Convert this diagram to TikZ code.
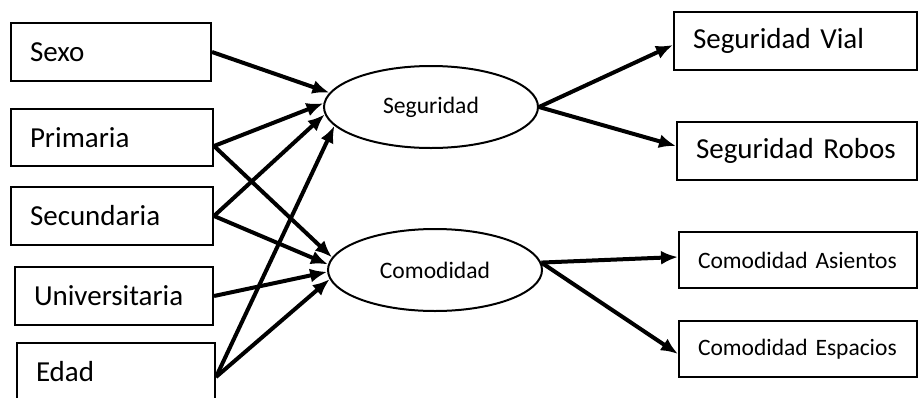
\documentclass[tikz,border=0pt]{standalone}
\usepackage{fontspec}
\setmainfont{Carlito}
\usepackage{tikz}
\usetikzlibrary{shapes, arrows.meta}

\begin{document}
\begin{tikzpicture}[x=1pt,y=-1pt,
    caja/.style={draw,line width=2pt,anchor=north west,align=left,
        inner xsep=19pt,inner ysep=0pt,minimum height=58pt,
        font=\fontsize{29}{32}\selectfont},
    chica/.style={font=\fontsize{23.5}{28}\selectfont},
    latente/.style={draw,ellipse,line width=2pt,minimum width=214pt,
        minimum height=82pt,font=\fontsize{23.6}{28}\selectfont},
    flecha/.style={-{Latex[length=17pt,width=14pt]},line width=4pt}]
        \clip (0,0) rectangle (918,397);
        \node[caja,text width=162pt] (sexo) at (10,22) {Sexo};
        \node[caja,text width=164pt,minimum height=57pt] (prim) at (10,108) {Primaria};
        \node[caja,text width=164pt] (secu) at (10,186) {Secundaria};
        \node[caja,text width=160pt] (univ) at (14,266) {Universitaria};
        \node[caja,text width=160pt] (edad) at (16,342) {Edad};
        \node[latente] (seg) at (431,107) {Seguridad};
        \node[latente] (com) at (435,270) {Comodidad};
        \node[caja,text width=205pt] (vial) at (673,11) {Seguridad Vial};
        \node[caja,text width=202pt] (robos) at (676,121) {Seguridad Robos};
        \node[caja,chica,text width=200pt,minimum height=56pt] (asie) at (678,231) {Comodidad Asientos};
        \node[caja,chica,text width=200pt,minimum height=56pt] (espa) at (678,320) {Comodidad Espacios};
        \draw[flecha] (sexo.east) -- (seg.172);
        \draw[flecha] ([yshift=-8.5pt]prim.east) -- (seg.178);
        \draw[flecha] ([yshift=-8.5pt]prim.east) -- (com.173);
        \draw[flecha] (secu.east) -- (seg.184);
        \draw[flecha] (secu.east) -- (com.177);
        \draw[flecha] (univ.east) -- (com.181);
        \draw[flecha] ([yshift=-5pt]edad.east) -- (seg.191);
        \draw[flecha] ([yshift=-5pt]edad.east) -- (com.185);
        \draw[flecha] (seg.east) -- ([yshift=-4pt]vial.west);
        \draw[flecha] (seg.east) -- ([yshift=5pt]robos.west);
        \draw[flecha] (com.4) -- ([yshift=3pt]asie.west);
        \draw[flecha] (com.4) -- ([yshift=-5pt]espa.west);
    \end{tikzpicture}
\end{document}
